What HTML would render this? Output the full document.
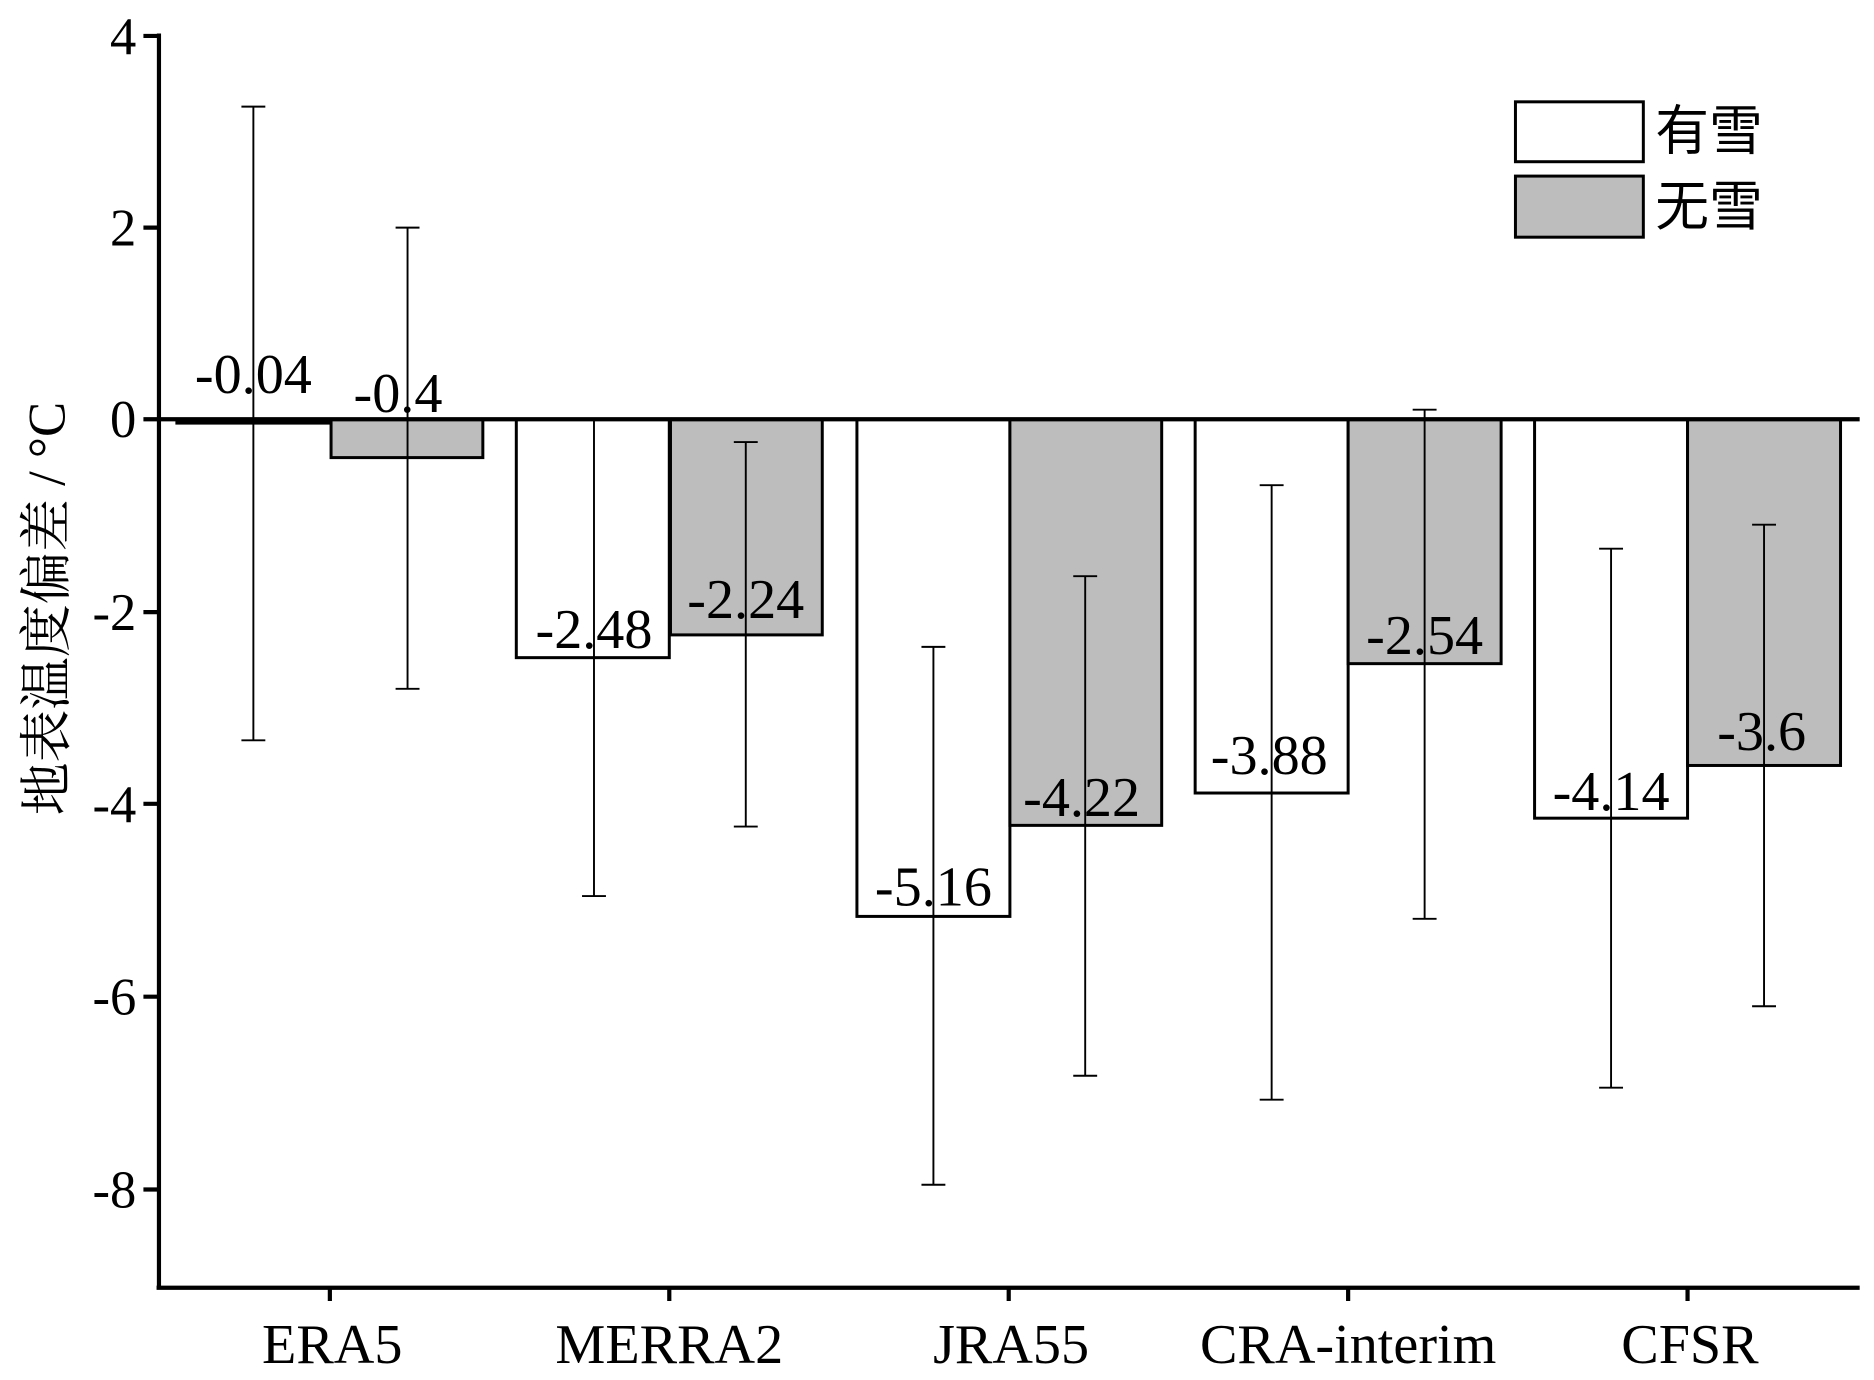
<!DOCTYPE html>
<html><head><meta charset="utf-8"><style>html,body{margin:0;padding:0;background:#fff}svg{display:block}</style></head>
<body>
<svg width="1874" height="1380" viewBox="0 0 1568 1152" preserveAspectRatio="none" xmlns="http://www.w3.org/2000/svg" font-family="Liberation Serif, serif">
<rect width="1568" height="1152" fill="#fff"/>
<g stroke="#000" stroke-width="2.5">
<rect x="148" y="350" width="127" height="3.2" fill="#000"/>
<rect x="277" y="350" width="127" height="32" fill="#bdbdbd"/>
<rect x="432" y="350" width="128" height="199" fill="#fff"/>
<rect x="561" y="350" width="127" height="180" fill="#bdbdbd"/>
<rect x="717" y="350" width="128" height="415" fill="#fff"/>
<rect x="845" y="350" width="127" height="339" fill="#bdbdbd"/>
<rect x="1000" y="350" width="128" height="312" fill="#fff"/>
<rect x="1128" y="350" width="128" height="204" fill="#bdbdbd"/>
<rect x="1284" y="350" width="128" height="333" fill="#fff"/>
<rect x="1412" y="350" width="128" height="289" fill="#bdbdbd"/>
</g>
<g stroke="#000" stroke-width="1.6" fill="none">
<path d="M212 89V618M202 89H222M202 618H222"/>
<path d="M341 190V575M331 190H351M331 575H351"/>
<path d="M497 350V748M487 748H507"/>
<path d="M624 369V690M614 369H634M614 690H634"/>
<path d="M781 540V989M771 540H791M771 989H791"/>
<path d="M908 481V898M898 481H918M898 898H918"/>
<path d="M1064 405V918M1054 405H1074M1054 918H1074"/>
<path d="M1192 342V767M1182 342H1202M1182 767H1202"/>
<path d="M1348 458V908M1338 458H1358M1338 908H1358"/>
<path d="M1476 438V840M1466 438H1486M1466 840H1486"/>
</g>
<g stroke="#000" stroke-width="3.5">
<line x1="133" y1="350" x2="1556" y2="350"/>
<line x1="133" y1="28" x2="133" y2="1076"/>
<line x1="131" y1="1075" x2="1556" y2="1075"/>
<path d="M120 30H133M120 190H133M120 350H133M120 511H133M120 671H133M120 832H133M120 993H133"/>
<path d="M276 1075V1086M560 1075V1086M844 1075V1086M1128 1075V1086M1412 1075V1086"/>
</g>
<g font-size="44" text-anchor="end">
<text x="114" y="45">4</text><text x="114" y="205">2</text><text x="114" y="365">0</text>
<text x="114" y="526">-2</text><text x="114" y="686">-4</text><text x="114" y="847">-6</text><text x="114" y="1008">-8</text>
</g>
<g font-size="47" text-anchor="middle">
<text x="278" y="1138">ERA5</text><text x="560" y="1138">MERRA2</text><text x="846" y="1138">JRA55</text>
<text x="1128" y="1138">CRA-interim</text><text x="1414" y="1138">CFSR</text>
<text x="212" y="328">-0.04</text><text x="333" y="344">-0.4</text>
<text x="497" y="541">-2.48</text><text x="624" y="516">-2.24</text>
<text x="781" y="756">-5.16</text><text x="905" y="681">-4.22</text>
<text x="1062" y="646">-3.88</text><text x="1192" y="546">-2.54</text>
<text x="1348" y="676">-4.14</text><text x="1474" y="626">-3.6</text>
</g>
<text transform="translate(54,508) rotate(-90)" font-size="44" text-anchor="middle" font-family="Liberation Serif, 'Noto Serif CJK SC', serif">地表温度偏差 / °C</text>
<rect x="1268" y="85" width="107" height="50" fill="#fff" stroke="#000" stroke-width="2.5"/>
<rect x="1268" y="147" width="107" height="51" fill="#bdbdbd" stroke="#000" stroke-width="2.5"/>
<g font-size="45" font-family="'Noto Sans CJK SC', sans-serif">
<text x="1385" y="125">有雪</text><text x="1385" y="188">无雪</text>
</g>
</svg>
</body></html>
